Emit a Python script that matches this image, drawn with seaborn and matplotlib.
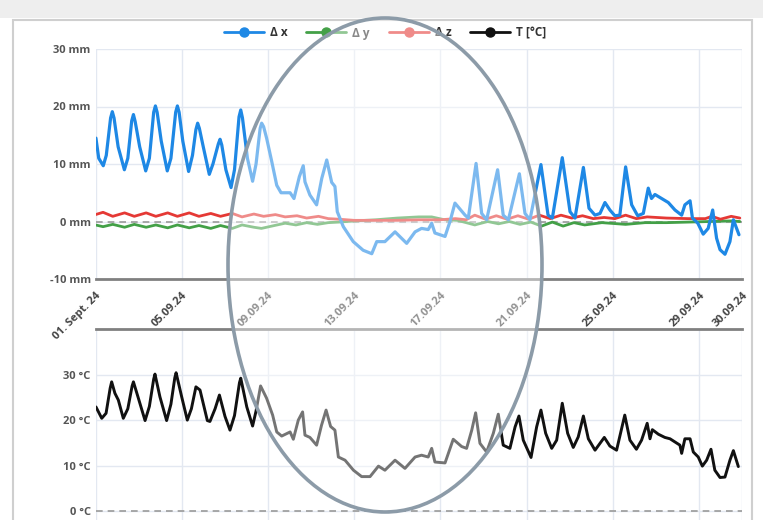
import seaborn as sns
import matplotlib.pyplot as plt
import matplotlib.patches as mpatches
from matplotlib.lines import Line2D

# time axis in days since 01.09.2024 00:00
dx_t = [0.02, 0.15, 0.36, 0.50, 0.70, 0.78, 0.86, 1.05, 1.34, 1.50, 1.68, 1.76, 1.84, 2.05, 2.33,
        2.50, 2.70, 2.78, 2.86, 3.05, 3.33, 3.50, 3.72, 3.80, 3.88, 4.05, 4.32, 4.50, 4.66, 4.74,
        4.82, 5.00, 5.28, 5.45, 5.70, 5.78, 5.86, 6.05, 6.29, 6.45, 6.66, 6.74, 6.82, 7.05, 7.29,
        7.45, 7.64, 7.71, 7.80, 7.94, 8.18, 8.41, 8.61, 9.03, 9.21, 9.46, 9.64, 9.72, 9.95, 10.26,
        10.50, 10.73, 10.96, 11.11, 11.22, 11.50, 11.96, 12.42, 12.82, 13.05, 13.43, 13.90, 14.44,
        14.83, 15.13, 15.44, 15.60, 15.75, 16.22, 16.45, 16.68, 17.15, 17.30, 17.66, 17.92, 18.15,
        18.66, 18.92, 19.16, 19.67, 19.93, 20.16, 20.67, 21.00, 21.20, 21.66, 22.02, 22.25, 22.64,
        22.90, 23.18, 23.41, 23.64, 23.87, 24.10, 24.33, 24.60, 24.88, 25.16, 25.42, 25.65, 25.80,
        25.96, 26.27, 26.58, 26.89, 27.20, 27.35, 27.59, 27.70, 27.95, 28.20, 28.43, 28.64, 28.82,
        28.98, 29.21, 29.44, 29.60, 29.75, 29.86]
dx_mm = [14.5, 11.0, 9.7, 11.5, 18.0, 19.1, 18.0, 13.0, 9.0, 11.0, 17.5, 18.6, 17.4, 13.0, 8.8,
         11.0, 19.0, 20.1, 19.0, 14.0, 8.8, 11.0, 19.0, 20.1, 19.0, 14.0, 8.7, 11.5, 16.0, 17.1,
         16.2, 13.0, 8.2, 10.0, 13.5, 14.3, 13.3, 9.0, 5.9, 9.0, 18.2, 19.4, 18.0, 11.0, 7.0,
         10.0, 16.2, 17.1, 16.5, 14.5, 10.4, 6.3, 5.0, 5.0, 4.0, 7.8, 9.7, 6.9, 4.6, 2.9,
         7.5, 10.7, 6.8, 6.1, 1.7, -0.9, -3.5, -5.0, -5.6, -3.5, -3.5, -1.8, -3.8,
         -1.8, -1.2, -1.4, -0.3, -2.0, -2.6, 0.0, 3.2, 1.1, 0.6, 10.1, 1.4, 0.3,
         9.0, 1.1, 0.3, 8.3, 1.4, 0.3, 9.9, 1.1, 0.6, 11.1, 1.7, 0.6, 9.4,
         2.3, 1.1, 1.4, 3.3, 2.0, 1.0, 1.1, 9.5, 2.9, 1.0, 1.4, 5.8, 4.0,
         4.7, 4.0, 3.3, 2.0, 1.1, 2.9, 3.6, 0.6, -0.3, -2.2, -1.2, 2.0, -2.9,
         -4.9, -5.7, -3.5, 0.3, -1.2, -2.3]

dy_t = [0.0, 0.35, 0.8, 1.35, 1.8, 2.35, 2.8, 3.35, 3.8, 4.35, 4.8, 5.35, 5.8, 6.35, 6.8, 7.35,
        7.7, 8.3, 8.8, 9.3, 9.8, 10.3, 10.8, 11.3, 12.0, 13.0, 14.0, 15.0, 15.6, 16.2, 16.8, 17.6,
        18.2, 18.7, 19.2, 19.7, 20.2, 20.7, 21.2, 21.7, 22.2, 22.7, 23.5, 24.6, 25.5, 26.5, 27.5,
        28.5, 29.5, 29.9]
dy_mm = [-0.6, -0.9, -0.5, -1.0, -0.5, -1.0, -0.6, -1.1, -0.6, -1.1, -0.7, -1.2, -0.7, -1.2, -0.6, -1.0,
         -1.2, -0.7, -0.3, -0.6, -0.2, -0.5, -0.2, -0.1, 0.1, 0.3, 0.6, 0.8, 0.8, 0.3, 0.2, -0.6,
         0.0, -0.4, 0.0, -0.5, -0.1, -0.8, -0.1, -0.8, -0.2, -0.6, -0.2, -0.5, -0.2, -0.2, -0.1,
         0.0, 0.1, 0.0]

dz_t = [0.0, 0.35, 0.8, 1.35, 1.8, 2.35, 2.8, 3.35, 3.8, 4.35, 4.8, 5.35, 5.8, 6.35, 6.8, 7.35,
        7.8, 8.35, 8.8, 9.35, 9.8, 10.35, 10.8, 11.3, 12.0, 13.0, 14.0, 15.0, 16.0, 16.7, 17.2,
        17.6, 18.1, 18.6, 19.1, 19.6, 20.1, 20.6, 21.1, 21.6, 22.1, 22.6, 23.1, 23.6, 24.1, 24.6,
        25.1, 25.6, 26.5, 27.5, 28.3, 28.6, 29.0, 29.5, 29.9]
dz_mm = [1.2, 1.6, 0.9, 1.5, 0.9, 1.5, 0.9, 1.5, 0.9, 1.5, 0.9, 1.4, 0.9, 1.4, 0.8, 1.3,
         0.9, 1.2, 0.8, 1.0, 0.6, 0.9, 0.5, 0.4, 0.2, 0.2, 0.2, 0.3, 0.3, 0.5, 0.3,
         1.1, 0.4, 1.0, 0.4, 1.0, 0.4, 1.1, 0.5, 1.1, 0.6, 1.0, 0.5, 0.7, 0.5, 1.1,
         0.5, 0.8, 0.6, 0.5, 0.5, 0.9, 0.4, 0.9, 0.6]

temp_t = [0.02, 0.29, 0.49, 0.68, 0.75, 0.90, 1.06, 1.29, 1.50, 1.70, 1.76, 1.99, 2.30, 2.50, 2.70,
          2.76, 2.99, 3.30, 3.50, 3.68, 3.74, 4.00, 4.26, 4.45, 4.66, 4.85, 5.19, 5.31, 5.55, 5.75,
          6.01, 6.24, 6.45, 6.68, 6.74, 7.02, 7.29, 7.45, 7.66, 7.94, 8.22, 8.41, 8.64, 9.03, 9.18,
          9.41, 9.61, 9.72, 9.95, 10.26, 10.49, 10.70, 10.91, 11.11, 11.27, 11.58, 11.97, 12.35,
          12.74, 13.13, 13.43, 13.90, 14.36, 14.83, 15.13, 15.44, 15.60, 15.75, 16.22, 16.60, 16.99,
          17.22, 17.46, 17.64, 17.84, 18.15, 18.46, 18.69, 18.92, 19.23, 19.47, 19.65, 19.85, 20.21,
          20.47, 20.67, 20.89, 21.17, 21.40, 21.66, 21.91, 22.17, 22.40, 22.64, 22.87, 23.18, 23.41,
          23.61, 23.87, 24.18, 24.56, 24.80, 25.10, 25.34, 25.60, 25.73, 25.84, 26.12, 26.42, 26.66,
          26.89, 27.12, 27.20, 27.35, 27.59, 27.74, 27.97, 28.16, 28.36, 28.56, 28.74, 28.98, 29.21,
          29.44, 29.60, 29.83]
temp_c = [22.9, 20.4, 21.5, 27.0, 28.4, 25.9, 24.4, 20.4, 22.5, 27.5, 28.4, 24.8, 19.9, 23.0, 29.0,
          30.1, 25.1, 19.9, 23.5, 29.3, 30.4, 25.1, 20.0, 22.5, 27.3, 26.6, 19.9, 19.7, 22.5, 25.5,
          20.8, 17.8, 21.0, 28.2, 29.2, 22.9, 18.7, 22.0, 27.5, 24.8, 21.1, 17.4, 16.5, 17.4, 15.8,
          20.0, 21.8, 16.7, 16.2, 14.5, 18.9, 22.2, 18.6, 17.8, 11.9, 11.2, 9.0, 7.6,
          7.6, 9.9, 9.0, 11.2, 9.4, 11.9, 12.3, 11.9, 13.8, 10.8, 10.6, 15.8, 14.2,
          13.8, 17.8, 21.6, 14.9, 13.0, 17.1, 21.3, 14.5, 13.8, 18.5, 20.9, 15.6, 11.8,
          18.5, 22.2, 17.1, 13.8, 15.6, 23.7, 17.1, 14.0, 16.3, 20.9, 15.9, 13.4, 14.9,
          16.2, 14.3, 13.4, 21.1, 15.6, 13.6, 15.6, 19.3, 15.9, 17.9, 16.9, 16.2, 15.9,
          15.2, 14.5, 12.7, 15.9, 15.9, 13.0, 11.9, 9.9, 11.2, 13.6, 9.0, 7.4, 7.5,
          11.2, 13.3, 9.8]

tick_days = [0, 4, 8, 12, 16, 20, 24, 28, 30]
tick_labels = ['01. Sept. 24', '05.09.24', '09.09.24', '13.09.24', '17.09.24',
               '21.09.24', '25.09.24', '29.09.24', '30.09.24']
mm_ticks = [-10, 0, 10, 20, 30]
deg_ticks = [0, 10, 20, 30]

sns.set_theme(style='white')
plt.rcParams['font.family'] = ['Open Sans', 'DejaVu Sans']
plt.rcParams['lines.solid_joinstyle'] = 'round'
plt.rcParams['lines.solid_capstyle'] = 'round'

W, H = 763, 520
fig = plt.figure(figsize=(W / 100, H / 100), dpi=100)
fig.patch.set_facecolor('white')

# page background + card
fig.add_artist(mpatches.Rectangle((0, 1 - 18 / H), 1, 18 / H, transform=fig.transFigure,
                                  facecolor='#eeeeee', edgecolor='none', zorder=-2))
fig.add_artist(mpatches.Rectangle((13 / W, -0.05), (752 - 13) / W, 1.05 - 20 / H,
                                  transform=fig.transFigure, facecolor='white',
                                  edgecolor='#cfcfcf', lw=1.5, zorder=-1))

x0, x1 = 95.5, 742
ax1 = fig.add_axes([x0 / W, 1 - 279 / H, (x1 - x0) / W, (279 - 49) / H])
ax2 = fig.add_axes([x0 / W, 1 - 534 / H, (x1 - x0) / W, (534 - 329) / H])

blue, green, red = '#1e88e5', '#43a047', '#e53935'

for ax in (ax1, ax2):
    ax.set_facecolor('none')
    ax.set_xlim(0, 30)
    ax.set_xticks(tick_days)
    ax.grid(True, color='#e3e8f1', lw=1)
    ax.tick_params(length=0, labelsize=8, labelcolor='#555555')
    for s in ax.spines.values():
        s.set_visible(False)
    ax.axhline(0, color='#9a9a9a', lw=1.2, ls=(0, (4, 3)), zorder=1)

sns.lineplot(x=dy_t, y=dy_mm, ax=ax1, color=green, lw=2.0, sort=False, estimator=None, zorder=3)
sns.lineplot(x=dz_t, y=dz_mm, ax=ax1, color=red, lw=2.0, sort=False, estimator=None, zorder=3)
sns.lineplot(x=dx_t, y=dx_mm, ax=ax1, color=blue, lw=2.3, sort=False, estimator=None, zorder=4)
ax1.set_ylim(-10, 30)
ax1.set_yticks(mm_ticks)
ax1.set_yticklabels([f'{v} mm' for v in mm_ticks], fontweight='bold')
ax1.set_xticklabels(tick_labels, rotation=45, ha='right', va='top', rotation_mode='anchor',
                    fontweight='bold', color='#444444')
ax1.tick_params(axis='x', pad=8)
ax1.spines['bottom'].set_visible(True)
ax1.spines['bottom'].set_color('#808080')
ax1.spines['bottom'].set_linewidth(2)

sns.lineplot(x=temp_t, y=temp_c, ax=ax2, color='#111111', lw=2.1, sort=False, estimator=None, zorder=4)
ax2.set_ylim(-5, 40)
ax2.set_yticks(deg_ticks)
ax2.set_yticklabels([f'{v} °C' for v in deg_ticks], fontweight='bold')
ax2.set_xticklabels([])
ax2.spines['top'].set_visible(True)
ax2.spines['top'].set_color('#808080')
ax2.spines['top'].set_linewidth(2)
ax1.set_xlabel('')
ax2.set_xlabel('')

handles = [Line2D([], [], color=c, lw=2, marker='o', markersize=6.5)
           for c in (blue, green, red, '#111111')]
fig.legend(handles, ['Δ x', 'Δ y', 'Δ z', 'T [°C]'], loc='center', ncol=4,
           bbox_to_anchor=(385 / W, 1 - 33 / H), frameon=False, handlelength=3.4,
           columnspacing=1.6, handletextpad=0.5,
           prop={'weight': 'bold', 'size': 8.5}, labelcolor='#333333')

# highlighted region: faded inside, grey outline
fig.add_artist(mpatches.Ellipse((385 / W, 1 - 265 / H), 314 / W, 494 / H,
                                transform=fig.transFigure, facecolor=(1, 1, 1, 0.42),
                                edgecolor='#8c9ba8', lw=2.6, zorder=10))

fig.savefig('out.png', dpi=100)
